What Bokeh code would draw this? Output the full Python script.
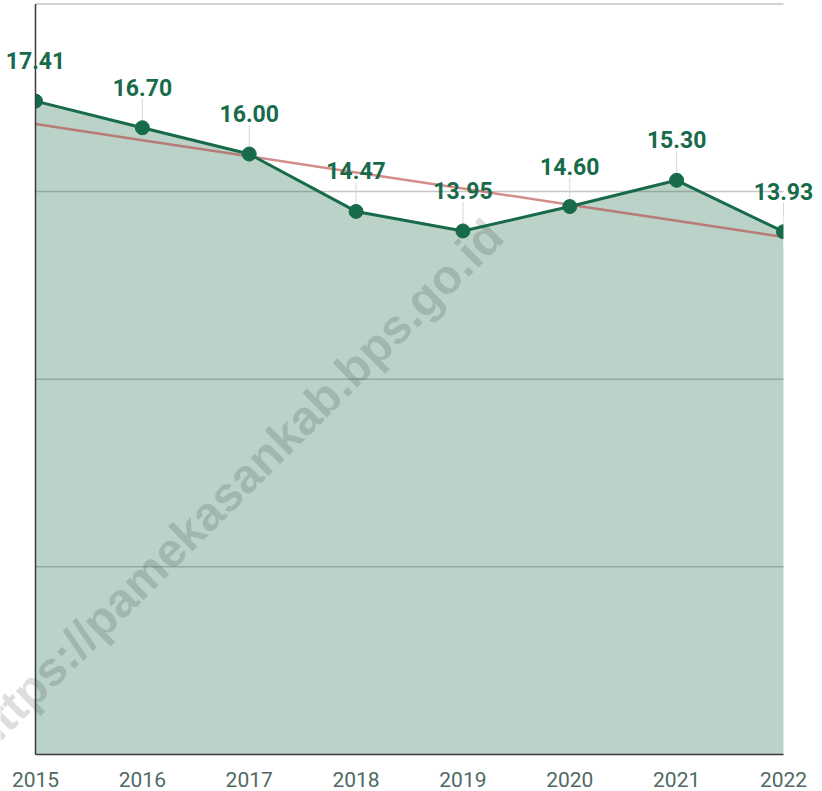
import numpy as np
from bokeh.plotting import figure
from bokeh.models import (ColumnDataSource, LabelSet, FixedTicker, Range1d)
from bokeh.core.properties import value
from bokeh.embed import file_html
from bokeh.resources import INLINE

years = [2015, 2016, 2017, 2018, 2019, 2020, 2021, 2022]
values = [17.41, 16.70, 16.00, 14.47, 13.95, 14.60, 15.30, 13.93]
value_labels = ["17.41", "16.70", "16.00", "14.47", "13.95", "14.60", "15.30", "13.93"]
grid_values = [5, 10, 15, 20]
watermark = "https://pamekasankab.bps.go.id"

GREEN = "#176b4a"

# linear trend line computed from the data
coef = np.polyfit(np.arange(len(values)), values, 1)
trend = list(np.polyval(coef, np.arange(len(values))))

# layout (pixels)
PLOT_LEFT, PLOT_RIGHT, CANVAS_W = 35, 783, 822
ZERO_Y, FRAME_H = 754, 756
ppy = (PLOT_RIGHT - PLOT_LEFT) / (years[-1] - years[0])
ppu = 37.53

x0 = years[0] - PLOT_LEFT / ppy
x1 = years[-1] + (CANVAS_W - PLOT_RIGHT) / ppy
y0 = -(FRAME_H - ZERO_Y) / ppu
y1 = ZERO_Y / ppu

src = ColumnDataSource(dict(
    x=years, y=values, lab=value_labels, trend=trend,
    lead_top=[v + 29 / ppu for v in values],
))
grid_src = ColumnDataSource(dict(
    gy=grid_values,
    gx0=[years[0]] * len(grid_values),
    gx1=[years[-1]] * len(grid_values),
    col=["#c6c6c6"] * (len(grid_values) - 1) + ["#d4d4d4"],
    w=[1.5] * (len(grid_values) - 1) + [2.0],
))

p = figure(frame_width=CANVAS_W, frame_height=FRAME_H,
           min_border_left=0, min_border_right=0, min_border_top=0, min_border_bottom=0,
           x_range=Range1d(x0, x1), y_range=Range1d(y0, y1),
           output_backend="svg", toolbar_location=None)

p.outline_line_color = None
p.background_fill_color = "white"
p.border_fill_color = "white"
p.grid.visible = False
p.yaxis.visible = False

p.xaxis.ticker = FixedTicker(ticks=years)
p.xaxis.axis_line_color = None
p.xaxis.major_tick_line_color = None
p.xaxis.minor_tick_line_color = None
p.xaxis.major_label_text_font = "Roboto"
p.xaxis.major_label_text_font_size = "21px"
p.xaxis.major_label_text_color = "#4f6a62"
p.xaxis.major_label_standoff = 9

# gridlines
p.segment(x0="gx0", x1="gx1", y0="gy", y1="gy", source=grid_src,
          line_color="col", line_width="w")

# area
p.varea(x="x", y1=0, y2="y", source=src, fill_color="#1a6b4a", fill_alpha=0.3)

# watermark (under the data lines)
p.text(x=[2016.87], y=[7.17], text=[watermark], angle=0.782,
       text_font=value("Liberation Sans"), text_font_style="bold", text_font_size=value("48px"),
       text_color="black", text_alpha=0.13, text_align="center", text_baseline="alphabetic")

# trend line
p.line(x="x", y="trend", source=src, line_color="#b5433f", line_alpha=0.6, line_width=2.5)

# leader lines
p.segment(x0="x", y0="y", x1="x", y1="lead_top", source=src, line_color="#d6d6d6", line_width=1)

# main line and markers
p.line(x="x", y="y", source=src, line_color=GREEN, line_width=3)
p.scatter(x="x", y="y", source=src, size=14, fill_color=GREEN, line_color=GREEN)

# small white masks outside the plotting area (clip the edge markers)
p.quad(left=[x0, years[-1]], right=[years[0], x1],
       bottom=[values[0] - 0.4, values[-1] - 0.4], top=[values[0] + 0.4, values[-1] + 0.4],
       fill_color="white", line_color=None)

# axis lines
p.segment(x0=[years[0], years[0]], y0=[0, 0], x1=[years[0], years[-1]], y1=[grid_values[-1], 0],
          line_color="#3a3a3a", line_width=1.5)

labels = LabelSet(x="x", y="y", text="lab", source=src, y_offset=32,
                  text_align="center", text_baseline="alphabetic",
                  text_font=value("Roboto"), text_font_style="bold", text_font_size=value("23px"),
                  text_color=GREEN)
p.add_layout(labels)

open("out.html", "w").write(file_html(p, INLINE))
